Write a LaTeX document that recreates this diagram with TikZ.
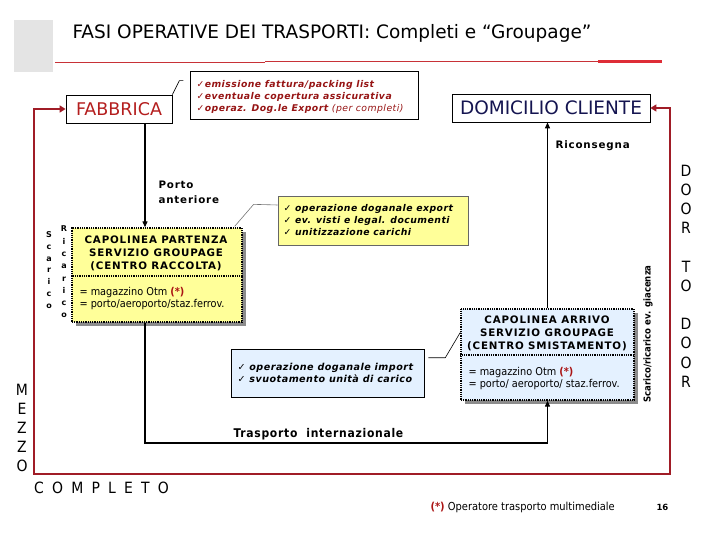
\documentclass[tikz,border=0pt]{standalone}
\usepackage{fontspec}
\setmainfont{DejaVu Sans}
\newfontfamily\condf{DejaVu Sans Condensed}
\newfontfamily\condspf{DejaVu Sans Condensed}[LetterSpace=6]
\newfontfamily\spacedf{DejaVu Sans}[LetterSpace=8]
\newfontfamily\notef{DejaVu Sans}[LetterSpace=5]
\newfontfamily\widef{DejaVu Sans Condensed}[LetterSpace=53]
\usetikzlibrary{arrows.meta,calc,shadows}
\newcommand{\myfs}[2]{\fontsize{#1}{#2}\selectfont}
\definecolor{loopred}{RGB}{160,28,38}
\definecolor{notered}{RGB}{150,20,20}
\definecolor{fabred}{RGB}{180,30,30}
\definecolor{navy}{RGB}{20,20,80}
\definecolor{boxyellow}{RGB}{255,255,153}
\definecolor{boxblue}{RGB}{228,241,255}
\definecolor{titlegray}{RGB}{228,228,228}
\definecolor{linered}{RGB}{200,50,55}
\definecolor{thickred}{RGB}{222,45,55}
\definecolor{asterred}{RGB}{170,20,20}
\begin{document}
\begin{tikzpicture}[x=1pt,y=-1pt,
  plainbox/.style={draw=black, line width=0.8pt, inner sep=0pt},
  capbox/.style={draw=black, line width=1.3pt, dash pattern=on 1pt off 0.8pt, inner sep=0pt},
  notebox/.style={draw=black!60, line width=0.6pt, inner sep=0pt},
  flow/.style={line width=1.1pt, -{Triangle[length=6pt,width=5pt]}},
  redflow/.style={draw=loopred, line width=2.6pt, {Triangle[length=6pt,width=7pt]}-{Triangle[length=6pt,width=7pt]}},
  callout/.style={draw=black!55, line width=0.6pt},
  shad/.style={drop shadow={shadow xshift=3.5pt, shadow yshift=-3.5pt, fill=black!45, opacity=1}},
  boxhead/.style={font=\spacedf\bfseries\myfs{10.3}{13}, align=center},
  boxinfo/.style={font=\condf\myfs{10.8}{12}, align=left, anchor=west},
  notetext/.style={font=\notef\bfseries\itshape\myfs{9.3}{12}, align=left, anchor=west},
  spacedlbl/.style={font=\spacedf\bfseries\myfs{10.3}{15}, align=left},
  bigletters/.style={font=\condf\myfs{15.5}{19.2}, align=center, inner sep=0pt}
]
\useasboundingbox (0,0) rectangle (720,540);

% header
\fill[titlegray] (14,20) rectangle (53,72);
\node[anchor=west, font=\myfs{18.5}{20}] (title) at (69,33) {FASI OPERATIVE DEI TRASPORTI: Completi e “Groupage”};
\draw[linered, line width=0.8pt] (55,62.5) -- (265,62.5);
\draw[linered, line width=0.8pt] (265,61.5) -- (598,61.5);
\draw[thickred, line width=3.5pt] (598,61.5) -- (662,61.5);

% top boxes
\node[plainbox, minimum width=106pt, minimum height=28pt, text=fabred, font=\myfs{17.5}{18}] (fab) at (119,109) {FABBRICA};
\node[plainbox, minimum width=198pt, minimum height=28pt, text=navy, font=\myfs{18.5}{18}] (dom) at (551,108) {DOMICILIO CLIENTE};
\node[plainbox, minimum width=228pt, minimum height=48pt] (note1) at (304,95) {};
\node[notetext, text=notered] (note1txt) at (193,97) {✓emissione fattura/packing list\\✓eventuale copertura assicurativa\\✓operaz. Dog.le Export {\mdseries(per completi)}};
\draw[black, line width=0.6pt] (fab.north east) -- ++(7,-14) -- ++(4,0);

% labels
\node[spacedlbl, anchor=west] (ricons) at (552,146) {Riconsegna};
\node[spacedlbl, anchor=west] (porto) at (155,192) {Porto\\anteriore};
\node[font=\condspf\bfseries\myfs{12}{13}, anchor=west] (trasp) at (230,434) {Trasporto\ \ internazionale};

% partenza box
\node[capbox, fill=boxyellow, shad, minimum width=170pt, minimum height=94pt] (part) at (157,275) {};
\draw[capbox] (part.west |- 0,276) -- (part.east |- 0,276);
\node[boxhead] (parthead) at (156,253) {CAPOLINEA PARTENZA\\SERVIZIO GROUPAGE\\(CENTRO RACCOLTA)};
\node[boxinfo] (partinfo) at (76,299) {= magazzino Otm {\bfseries\color{asterred}(*)}\\= porto/aeroporto/staz.ferrov.};

% arrivo box
\node[capbox, fill=boxblue, shad, minimum width=173pt, minimum height=91pt] (arr) at (547.5,354.5) {};
\draw[capbox] (arr.west |- 0,355) -- (arr.east |- 0,355);
\node[boxhead] (arrhead) at (547,333) {CAPOLINEA ARRIVO\\SERVIZIO GROUPAGE\\(CENTRO SMISTAMENTO)};
\node[boxinfo] (arrinfo) at (465,379) {= magazzino Otm {\bfseries\color{asterred}(*)}\\= porto/ aeroporto/ staz.ferrov.};

% notes
\node[notebox, fill=boxyellow, minimum width=190pt, minimum height=49pt] (note2) at (373,220.5) {};
\node[notetext] (note2txt) at (280,220) {✓ operazione doganale export\\✓ ev. visti e legal. documenti\\✓ unitizzazione carichi};
\draw[callout] ($(part.north east)+(-8,-1)$) -- ++(19,-22) -- (note2.west |- 0,205);

\node[notebox, draw=black, fill=boxblue, minimum width=193pt, minimum height=48pt] (note3) at (327.5,373) {};
\node[notetext, font=\notef\bfseries\itshape\myfs{9.6}{12}] (note3txt) at (234,373) {✓ operazione doganale import\\✓ svuotamento unità di carico};
\draw[black, line width=0.6pt] ($(note3.north east)+(4,9)$) -- ++(17,0) -- ($(arr.north west)+(0,24)$);

% vertical side labels
\node[font=\bfseries\myfs{8}{11.7}, align=center, inner sep=0pt] (scar) at (49,270) {S\\c\\a\\r\\i\\c\\o};
\node[font=\bfseries\myfs{8}{12.3}, align=center, inner sep=0pt] (ricar) at (64,272) {R\\i\\c\\a\\r\\i\\c\\o};
\node[rotate=90, font=\condf\bfseries\myfs{9.5}{10}] (giac) at (648,334) {Scarico/ricarico ev. giacenza};
\node[bigletters] (door) at (686,276) {D\\O\\O\\R\\\mbox{}\\T\\O\\\mbox{}\\D\\O\\O\\R};
\node[bigletters, font=\condf\myfs{15.5}{19}] (mezzo) at (22,428) {M\\E\\Z\\Z\\O};
\node[anchor=west, font=\widef\myfs{15.5}{18}, inner sep=0pt] (compl) at (34,488) {COMPLETO};

% footer
\node[anchor=west, font=\condf\myfs{11}{12}] (foot) at (427,507) {{\bfseries\color{asterred}(*)} Operatore trasporto multimediale};
\node[anchor=west, font=\bfseries\myfs{8.5}{10}] (page) at (653,507) {16};

% connectors
\coordinate (xline) at (145,0);
\coordinate (ybot) at (0,443);
\coordinate (redL) at (34,474);
\coordinate (redR) at (670,474);
\draw[flow] (fab.south -| xline) -- (part.north -| xline);
\draw[flow] (part.south -| xline) -- (xline |- ybot) -- (ybot -| arr.south) -- (arr.south);
\draw[flow] (arr.north) -- (arr.north |- dom.south);
\draw[redflow] (fab.west) -| (redL) -- (redR) |- (dom.east);
\end{tikzpicture}
\end{document}
